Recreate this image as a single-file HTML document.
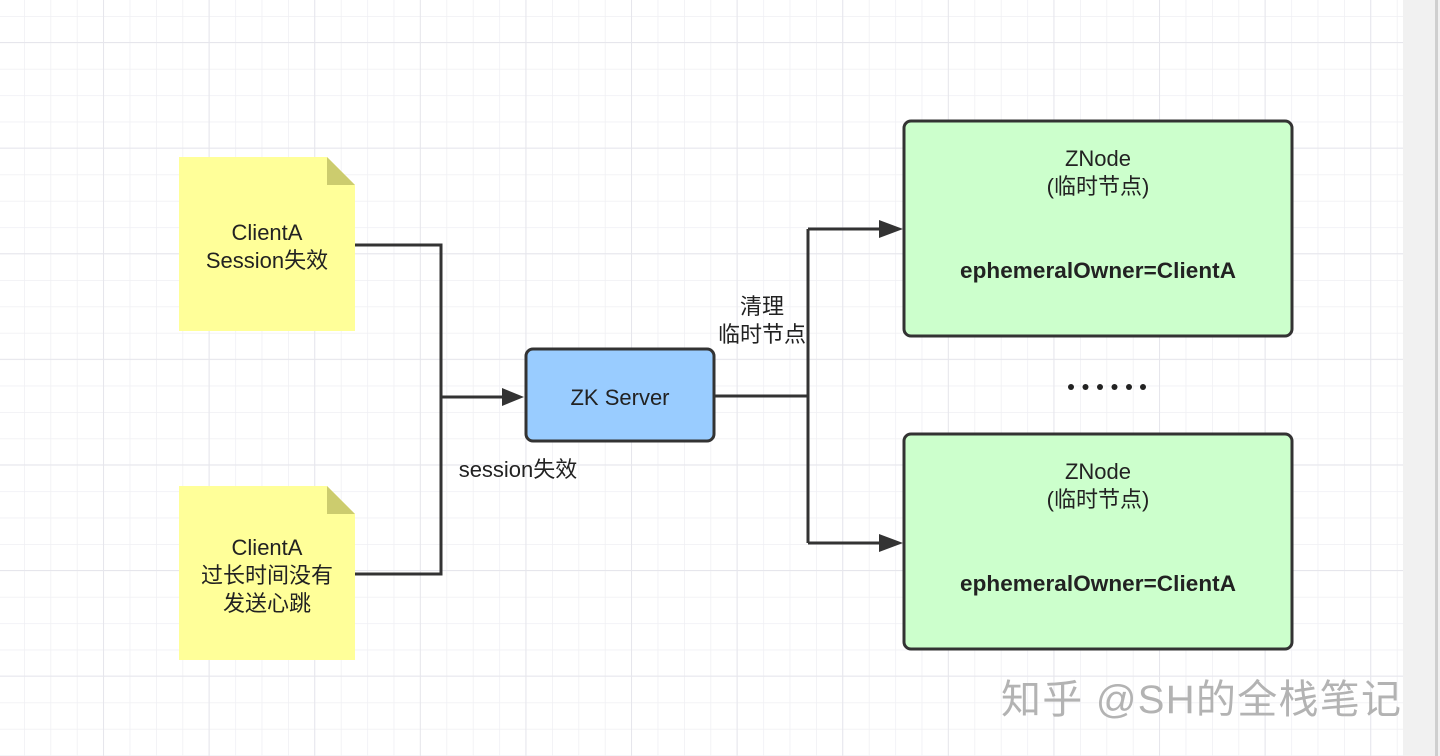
<!DOCTYPE html>
<html><head><meta charset="utf-8"><style>
html,body{margin:0;padding:0;background:#fff;}
svg{display:block;}
text{font-family:"Liberation Sans","Noto Sans CJK SC",sans-serif;fill:#222;}
</style></head><body>
<svg width="1440" height="756" xmlns="http://www.w3.org/2000/svg">
<defs>
<pattern id="minor" x="24" y="16" width="26.4" height="26.4" patternUnits="userSpaceOnUse">
<path d="M0 0V26.4M0 0H26.4" stroke="#efeff3" stroke-width="1.5" fill="none"/>
</pattern>
<pattern id="major" x="103" y="42" width="105.6" height="105.6" patternUnits="userSpaceOnUse">
<path d="M0 0V105.6M0 0H105.6" stroke="#e6e6ec" stroke-width="2" fill="none"/>
</pattern>
</defs>
<rect width="1440" height="756" fill="url(#minor)"/>
<rect width="1440" height="756" fill="url(#major)"/>
<rect x="1403" y="0" width="37" height="756" fill="#f1f1f1"/>
<rect x="1435" y="0" width="3" height="756" fill="#cfcfcf"/>

<path d="M179 157H327L355 185V331H179Z" fill="#ffff99"/>
<path d="M327 157L355 185H327Z" fill="#cccc6e"/>
<path d="M179 486H327L355 514V660H179Z" fill="#ffff99"/>
<path d="M327 486L355 514H327Z" fill="#cccc6e"/>
<text x="267" y="240" font-size="22" text-anchor="middle">ClientA</text>
<text x="267" y="268" font-size="22" text-anchor="middle">Session失效</text>
<text x="267" y="555" font-size="22" text-anchor="middle">ClientA</text>
<text x="267" y="583" font-size="22" text-anchor="middle">过长时间没有</text>
<text x="267" y="611" font-size="22" text-anchor="middle">发送心跳</text>

<g stroke="#333" stroke-width="3" fill="none">
<path d="M355 245H441V574H355"/>
<path d="M441 397H505"/>
<path d="M715 396H808"/>
<path d="M808 229V543"/>
<path d="M808 229H882"/>
<path d="M808 543H882"/>
</g>
<g fill="#333">
<path d="M524 397L502 388V406Z"/>
<path d="M903 229L879 220V238Z"/>
<path d="M903 543L879 534V552Z"/>
</g>

<rect x="526" y="349" width="188" height="92" rx="7" fill="#99ccff" stroke="#333" stroke-width="3"/>
<text x="620" y="405" font-size="22" text-anchor="middle">ZK Server</text>
<text x="518" y="477" font-size="22" text-anchor="middle">session失效</text>
<text x="762" y="314" font-size="22" text-anchor="middle">清理</text>
<text x="762" y="342" font-size="22" text-anchor="middle">临时节点</text>

<rect x="904" y="121" width="388" height="215" rx="7" fill="#ccffcc" stroke="#333" stroke-width="3"/>
<text x="1098" y="166" font-size="22" text-anchor="middle">ZNode</text>
<text x="1098" y="194" font-size="22" text-anchor="middle">(临时节点)</text>
<text x="1098" y="278" font-size="22.5" font-weight="bold" text-anchor="middle" textLength="276">ephemeralOwner=ClientA</text>
<rect x="904" y="434" width="388" height="215" rx="7" fill="#ccffcc" stroke="#333" stroke-width="3"/>
<text x="1098" y="479" font-size="22" text-anchor="middle">ZNode</text>
<text x="1098" y="507" font-size="22" text-anchor="middle">(临时节点)</text>
<text x="1098" y="591" font-size="22.5" font-weight="bold" text-anchor="middle" textLength="276">ephemeralOwner=ClientA</text>

<g fill="#222">
<circle cx="1071" cy="387" r="3"/><circle cx="1085.5" cy="387" r="3"/><circle cx="1100" cy="387" r="3"/>
<circle cx="1114.5" cy="387" r="3"/><circle cx="1129" cy="387" r="3"/><circle cx="1143" cy="387" r="3"/>
</g>

<text x="1201" y="713" font-size="40" text-anchor="middle" textLength="400" style="fill:#b3b3b3">知乎 @SH的全栈笔记</text>
</svg>
</body></html>
